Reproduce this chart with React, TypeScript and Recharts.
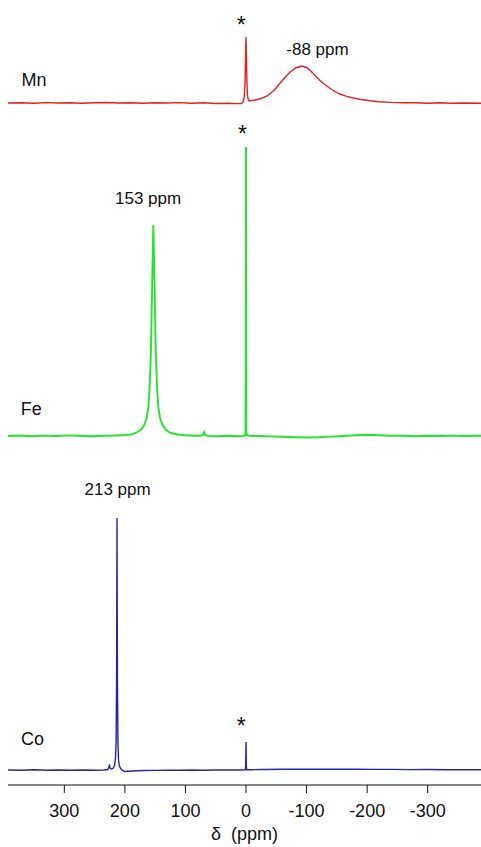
import { LineChart, Line, XAxis, YAxis, ReferenceDot, Label } from 'recharts';

// δ (ppm) vs intensity (arb. units above each trace's own baseline)
const mnSpectrum: [number, number][] = [
  [393, 0], [370, 0.3], [350, -0.2], [330, 0.4], [310, 0], [290, 0.3], [270, -0.2], [250, 0.2],
  [230, 0.5], [210, 0], [190, 0.3], [170, -0.3], [150, 0.2], [130, 0], [110, 0.4], [90, -0.2],
  [70, 0.3], [50, -0.5], [30, -0.3], [15, -0.6], [8, -0.6], [5, 1], [3.5, 4], [2.5, 9],
  [1.5, 22], [0.8, 45], [0, 66], [-0.8, 45], [-1.5, 20], [-2.5, 7], [-4, 3], [-6, 2],
  [-15, 3], [-25, 4.5], [-35, 7], [-47, 13], [-55, 19], [-65, 26], [-73, 31], [-82, 35],
  [-92, 37], [-100, 35.5], [-107, 32], [-114, 27.5], [-121, 23], [-130, 18.5], [-139, 14.5], [-147, 11.5],
  [-155, 9], [-165, 6.8], [-177, 5], [-190, 3.5], [-205, 2.2], [-220, 1.3], [-240, 0.6], [-260, 0.2],
  [-280, 0.3], [-300, -0.2], [-320, 0.2], [-340, -0.3], [-360, 0], [-388, -0.2],
];

const feSpectrum: [number, number][] = [
  [393, 0], [375, 0.5], [355, -0.3], [335, 0.4], [315, 0], [295, 0.6], [275, 0.2], [255, -0.2],
  [235, 0.3], [215, 0.5], [200, 1], [190, 1.5], [182, 3], [174, 6], [168, 11], [164, 18],
  [161, 30], [159, 50], [157, 85], [155, 150], [153, 211], [151, 150], [149, 85], [147, 50],
  [145, 30], [142, 18], [138, 11], [132, 6], [124, 3], [112, 1.5], [100, 0.8], [85, 0.3],
  [75, 0.2], [71, 1], [69, 4], [67, 0.8], [60, 0], [45, -0.3], [30, 0.2], [15, -0.2],
  [5, 0], [1, 0.5], [0.5, 5], [0, 289], [-0.5, 5], [-1, 1], [-5, 0.3], [-20, 0],
  [-40, -0.4], [-60, -0.8], [-80, -1.2], [-100, -1.5], [-120, -1.2], [-140, -0.6], [-160, 0], [-180, 0.8],
  [-200, 1.2], [-220, 0.8], [-240, 0.3], [-260, 0.2], [-280, -0.2], [-300, 0.3], [-320, 0], [-340, 0.4],
  [-360, 0], [-388, 0.2],
];

const coSpectrum: [number, number][] = [
  [393, 0], [370, -0.3], [350, 0.2], [330, -0.2], [310, 0], [290, -0.3], [270, 0], [250, -0.2],
  [235, 0], [228, 0.5], [226.5, 3], [225.5, 5.5], [224.5, 2], [222, 1], [219, 2], [217, 5],
  [215.5, 12], [214.5, 28], [213.7, 90], [213, 252], [212.3, 90], [211.5, 28], [210.5, 10], [209, 4],
  [207, 1.5], [204, -0.5], [200, -1.5], [195, -1.2], [185, -1], [170, -0.5], [150, -0.4], [130, -0.3],
  [110, -0.2], [90, 0], [70, -0.2], [50, 0], [30, 0], [10, 0], [1, 0.2], [0.5, 5],
  [0, 28], [-0.5, 5], [-1, 0.5], [-10, 0.3], [-30, 0.5], [-60, 0.7], [-90, 0.8], [-120, 0.8],
  [-150, 0.8], [-180, 0.7], [-210, 0.6], [-240, 0.6], [-270, 0.4], [-300, 0.5], [-330, 0.3], [-360, 0.2],
  [-388, 0.2],
];

const xTicks = [300, 200, 100, 0, -100, -200, -300];

// text anchors in data space: [ppm, stacked intensity, text]
const sampleNames: [number, number, string][] = [
  [350, 705, 'Mn'],
  [354.5, 376, 'Fe'],
  [352.4, 46, 'Co'],
];
const shiftNotes: [number, number, string][] = [
  [-118, 736.5, '-88 ppm'],
  [161.7, 586.7, '153 ppm'],
  [212, 296, '213 ppm'],
];
const refMarks: [number, number, string][] = [
  [8, 760, '*'],
  [6, 651.5, '*'],
  [8, 59, '*'],
];

const FONT = '"Liberation Sans", Arial, sans-serif';

// vertical stacking of the three traces
const MN_BASE = 682;
const FE_BASE = 349;
const CO_BASE = 15;

const stack = (s: [number, number][], base: number) => s.map(([x, h]) => ({ x, y: base + h }));

function notes(list: [number, number, string][], size: number, key: string) {
  return list.map(([x, y, t], i) => (
    <ReferenceDot
      key={`${key}-${i}`}
      x={x}
      y={y}
      r={0}
      fill="none"
      stroke="none"
      label={{ value: t, position: 'center', fill: '#111', fontSize: size, fontFamily: FONT }}
    />
  ));
}

export default function App() {
  return (
    <div style={{ position: 'fixed', left: 0, top: 0, width: 481, height: 847, overflow: 'hidden', background: '#fff' }}>
      <LineChart width={481} height={847} margin={{ top: 0, right: 0, bottom: 0, left: 8 }}>
        <XAxis
          dataKey="x"
          type="number"
          domain={[-388, 393]}
          reversed
          allowDataOverflow
          ticks={xTicks}
          height={62}
          tickSize={8}
          tickMargin={11}
          stroke="#111"
          tick={{ fill: '#111', fontSize: 18, fontFamily: FONT }}
        >
          <Label
            value={'δ\u00a0\u00a0(ppm)'}
            position="insideBottom"
            offset={7}
            fill="#111"
            fontSize={18}
            fontFamily={FONT}
          />
        </XAxis>
        <YAxis type="number" domain={[0, 785]} hide allowDataOverflow />
        <Line data={stack(mnSpectrum, MN_BASE)} dataKey="y" type="linear" stroke="#e02222" strokeWidth={1.4} dot={false} isAnimationActive={false} />
        <Line data={stack(feSpectrum, FE_BASE)} dataKey="y" type="linear" stroke="#22e52a" strokeWidth={1.9} dot={false} isAnimationActive={false} />
        <Line data={stack(coSpectrum, CO_BASE)} dataKey="y" type="linear" stroke="#2424b4" strokeWidth={1.4} dot={false} isAnimationActive={false} />
        {notes(sampleNames, 18, 'name')}
        {notes(shiftNotes, 17, 'shift')}
        {notes(refMarks, 23, 'ref')}
      </LineChart>
    </div>
  );
}
